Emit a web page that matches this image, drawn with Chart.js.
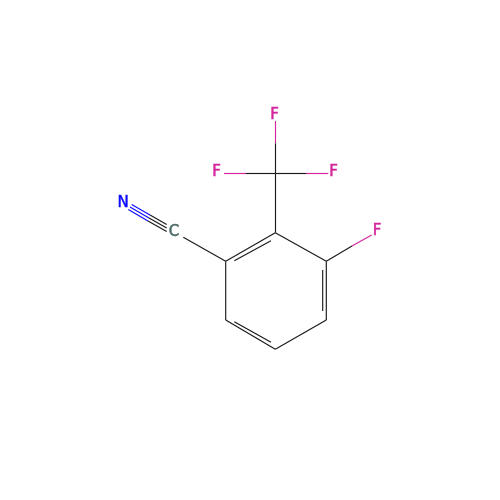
<!DOCTYPE html>
<html>
<head>
<meta charset="utf-8">
<style>
html, body { margin: 0; padding: 0; background: #fff; }
canvas { display: block; }
</style>
<script src="https://cdn.jsdelivr.net/npm/chart.js@4/dist/chart.umd.min.js"></script>
</head>
<body>
<canvas id="myChart" width="500" height="500"></canvas>
<script>
'use strict';

// bonds, [x1, y1, x2, y2]
const blackBonds = [
    [225.7, 261.3, 275.3, 232.7],
    [275.3, 232.7, 326.3, 261.3],
    [326.3, 261.3, 326.3, 320],
    [326.3, 320, 275.3, 349.3],
    [275.3, 349.3, 225.7, 320],
    [225.7, 320, 225.7, 261.3],
    [234.3, 260.7, 271, 240.7],
    [322.7, 270, 322.7, 311],
    [234.3, 321.7, 271, 342.3],
    [183.3, 237.3, 225.7, 261.3],
    [275.5, 232.7, 275.5, 173.5],
    [275.5, 173.5, 275.5, 143.3],
    [275.5, 173.5, 246, 173.5],
    [275.5, 173.5, 306, 173.5],
    [326.3, 261.3, 352, 246],
    [166.7, 224.5, 150, 215],
    [166.7, 228, 149, 218],
    [166.7, 231.5, 148, 221]
];
const pinkBonds = [
    [275.5, 143.3, 275.5, 121],
    [246, 173.5, 224, 173.5],
    [306, 173.5, 328.3, 173.5],
    [352, 246, 371.7, 235]
];
const blueBonds = [
    [150, 215, 131.7, 204.5],
    [149, 218, 130, 207],
    [148, 221, 128.3, 209.5]
];

const atomNames = ['N', 'C', 'F', 'F', 'F', 'F'];
const atomX = [123, 174, 274.5, 216.5, 333.5, 377];
const atomY = [203.5, 232.5, 115.5, 172.5, 172.5, 231];

const black = '#1a1a1a';
const pink = '#d4259b';
const blue = '#0d0dff';
const atomColors = { N: blue, C: '#4d6a6a', F: pink };

function bondDatasets(bonds, color) {
    return bonds.map(function(b){
        return {
            data: [{x: b[0], y: b[1]}, {x: b[2], y: b[3]}],
            borderColor: color,
            borderWidth: 1.15,
            pointRadius: 0,
            showLine: true,
            fill: false
        };
    });
}

const atomLabels = {
    id: 'atomLabels',
    afterDatasetsDraw(chart) {
        const ctx = chart.ctx;
        ctx.save();
        ctx.font = '15px "DejaVu Sans"';
        ctx.textAlign = 'center';
        ctx.textBaseline = 'middle';
        ctx.lineWidth = 0.5;
        atomNames.forEach(function(name, i){
            const px = chart.scales.x.getPixelForValue(atomX[i]);
            const py = chart.scales.y.getPixelForValue(atomY[i]);
            ctx.fillStyle = atomColors[name];
            ctx.strokeStyle = atomColors[name];
            ctx.fillText(name, px, py);
            ctx.strokeText(name, px, py);
        });
        ctx.restore();
    }
};

const chart = document.getElementById('myChart');
const myChart = new Chart(chart, {
    type: 'scatter',
    data: {
        datasets: bondDatasets(blackBonds, black)
            .concat(bondDatasets(pinkBonds, pink))
            .concat(bondDatasets(blueBonds, blue))
    },
    options: {
        responsive: false,
        animation: false,
        layout: { padding: 0 },
        plugins: { legend: { display: false }, tooltip: { enabled: false } },
        scales: {
            x: { display: false, min: 0, max: 500 },
            y: { display: false, min: 0, max: 500, reverse: true }
        }
    },
    plugins: [atomLabels]
});
</script>
</body>
</html>
